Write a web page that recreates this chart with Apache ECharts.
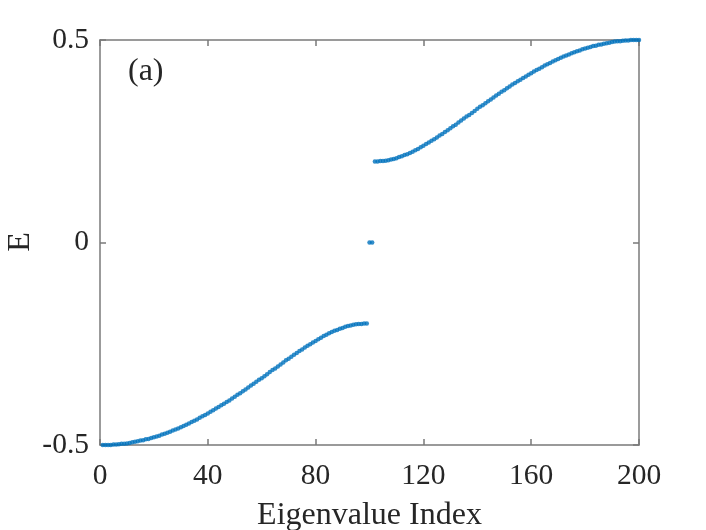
<!DOCTYPE html>
<html>
<head>
<meta charset="utf-8">
<script src="https://cdn.jsdelivr.net/npm/echarts@6/dist/echarts.min.js"></script>
<style>
    html, body { margin: 0; padding: 0; background: #fff; }
    #chart { width: 706px; height: 530px; }
</style>
</head>
<body>
<div id="chart"></div>
<script>
// eigenvalues, ordered by index 1..200
const lowerBand = [
    -0.500, -0.500, -0.500, -0.500, -0.499, -0.499, -0.498, -0.497, -0.497, -0.496,
    -0.495, -0.493, -0.492, -0.491, -0.489, -0.488, -0.486, -0.485, -0.483, -0.481,
    -0.479, -0.477, -0.474, -0.472, -0.470, -0.467, -0.464, -0.462, -0.459, -0.456,
    -0.453, -0.450, -0.447, -0.443, -0.440, -0.437, -0.433, -0.429, -0.426, -0.422,
    -0.418, -0.414, -0.410, -0.406, -0.402, -0.398, -0.394, -0.390, -0.385, -0.381,
    -0.376, -0.372, -0.367, -0.363, -0.358, -0.353, -0.349, -0.344, -0.339, -0.335,
    -0.330, -0.325, -0.320, -0.315, -0.311, -0.306, -0.301, -0.296, -0.291, -0.287,
    -0.282, -0.277, -0.273, -0.268, -0.264, -0.259, -0.255, -0.251, -0.247, -0.243,
    -0.239, -0.235, -0.231, -0.228, -0.224, -0.221, -0.218, -0.216, -0.213, -0.211,
    -0.208, -0.206, -0.205, -0.203, -0.202, -0.201, -0.201, -0.200, -0.200
];
const zeroModes = [0.000, 0.000];
const upperBand = [
    0.200, 0.200, 0.201, 0.201, 0.202, 0.203, 0.205, 0.206, 0.208,
    0.211, 0.213, 0.216, 0.218, 0.221, 0.224, 0.228, 0.231, 0.235, 0.239,
    0.243, 0.247, 0.251, 0.255, 0.259, 0.264, 0.268, 0.273, 0.277, 0.282,
    0.287, 0.291, 0.296, 0.301, 0.306, 0.311, 0.315, 0.320, 0.325, 0.330,
    0.335, 0.339, 0.344, 0.349, 0.353, 0.358, 0.363, 0.367, 0.372, 0.376,
    0.381, 0.385, 0.390, 0.394, 0.398, 0.402, 0.406, 0.410, 0.414, 0.418,
    0.422, 0.426, 0.429, 0.433, 0.437, 0.440, 0.443, 0.447, 0.450, 0.453,
    0.456, 0.459, 0.462, 0.464, 0.467, 0.470, 0.472, 0.474, 0.477, 0.479,
    0.481, 0.483, 0.485, 0.486, 0.488, 0.489, 0.491, 0.492, 0.493, 0.495,
    0.496, 0.497, 0.497, 0.498, 0.499, 0.499, 0.500, 0.500, 0.500, 0.500
];
const xTicks = [0, 40, 80, 120, 160, 200];
const yTicks = [-0.5, 0, 0.5];

const energies = lowerBand.concat(zeroModes, upperBand);
const points = energies.map((e, i) => [i + 1, e]);

const FONT = '"Liberation Serif", "DejaVu Serif", serif';
const AXIS_COLOR = '#7a7a7a';
const TEXT_COLOR = '#262626';

const chart = echarts.init(document.getElementById('chart'), null, {renderer: 'canvas'});

const axisLine = {show: true, onZero: false, lineStyle: {color: AXIS_COLOR, width: 1.5}};
const axisTick = {show: true, inside: true, length: 6, lineStyle: {color: AXIS_COLOR, width: 1.5}};

chart.setOption({
    animation: false,
    backgroundColor: '#fff',
    grid: {left: 100, right: 67, top: 40, bottom: 85, containLabel: false, outerBoundsMode: 'none'},
    xAxis: [
        {
            type: 'value',
            min: xTicks[0],
            max: xTicks[xTicks.length - 1],
            interval: 40,
            name: 'Eigenvalue Index',
            nameLocation: 'middle',
            nameGap: 55,
            nameTextStyle: {fontFamily: FONT, fontSize: 32, color: TEXT_COLOR},
            axisLine: axisLine,
            axisTick: axisTick,
            axisLabel: {fontFamily: FONT, fontSize: 29.5, color: TEXT_COLOR, margin: 16},
            splitLine: {show: false}
        },
        {
            type: 'value',
            position: 'top',
            min: xTicks[0],
            max: xTicks[xTicks.length - 1],
            interval: 40,
            axisLine: axisLine,
            axisTick: axisTick,
            axisLabel: {show: false},
            splitLine: {show: false}
        }
    ],
    yAxis: [
        {
            type: 'value',
            min: yTicks[0],
            max: yTicks[yTicks.length - 1],
            interval: 0.5,
            axisLine: axisLine,
            axisTick: axisTick,
            axisLabel: {fontFamily: FONT, fontSize: 29.5, color: TEXT_COLOR, margin: 11},
            splitLine: {show: false}
        },
        {
            type: 'value',
            position: 'right',
            min: yTicks[0],
            max: yTicks[yTicks.length - 1],
            interval: 0.5,
            axisLine: axisLine,
            axisTick: axisTick,
            axisLabel: {show: false},
            splitLine: {show: false}
        }
    ],
    graphic: [
        {
            type: 'text',
            left: 128,
            top: 56,
            style: {text: '(a)', fontFamily: FONT, fontSize: 32, fill: TEXT_COLOR}
        },
        {
            // y axis title, placed by hand: the axis name got pushed by the tick labels
            type: 'text',
            x: 21,
            y: 242,
            rotation: Math.PI / 2,
            style: {
                text: 'E', fontFamily: FONT, fontSize: 32, fill: TEXT_COLOR,
                align: 'center', verticalAlign: 'middle'
            }
        }
    ],
    series: [{
        type: 'scatter',
        data: points,
        symbol: 'circle',
        symbolSize: 4.5,
        itemStyle: {color: '#0072BD'},
        clip: false
    }]
});
</script>
</body>
</html>
